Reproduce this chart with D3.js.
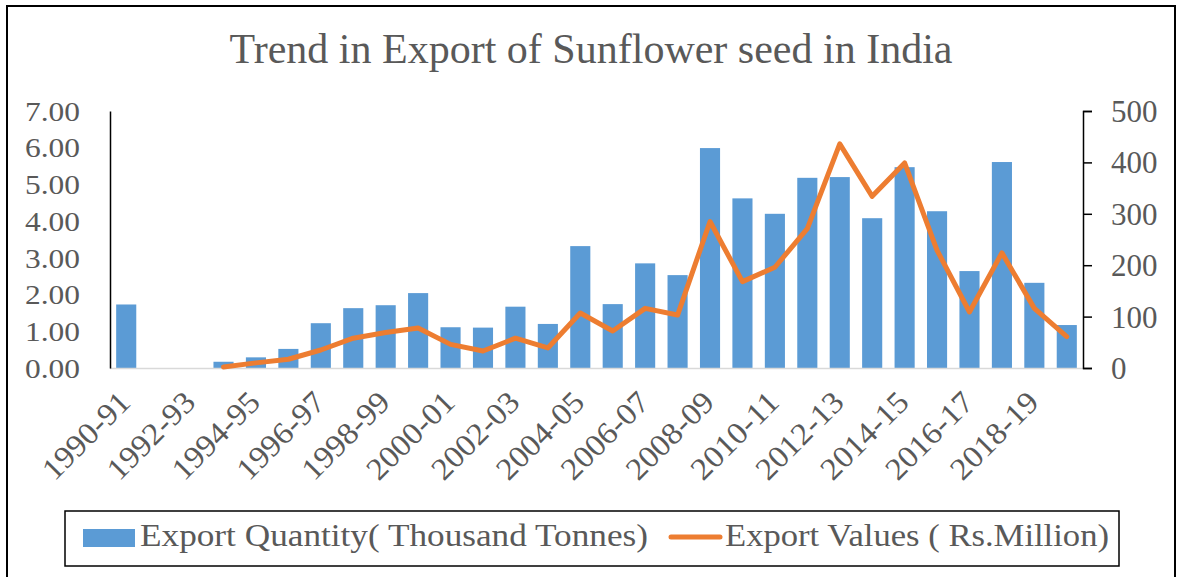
<!DOCTYPE html>
<html>
<head>
<meta charset="utf-8">
<script src="https://cdn.jsdelivr.net/npm/d3@7"></script>
<style>
  body { margin: 0; background: #fff; }
  svg { display: block; font-family: "Liberation Serif", "DejaVu Serif", serif; }
</style>
</head>
<body>
<svg id="chart" width="1178" height="577"></svg>
<script>
// sunflower seed exports, India
const years = ["1990-91","1991-92","1992-93","1993-94","1994-95","1995-96","1996-97","1997-98",
  "1998-99","1999-00","2000-01","2001-02","2002-03","2003-04","2004-05","2005-06","2006-07",
  "2007-08","2008-09","2009-10","2010-11","2011-12","2012-13","2013-14","2014-15","2015-16",
  "2016-17","2017-18","2018-19","2019-20"];
// thousand tonnes
const quantity = [1.73, 0, 0, 0.17, 0.29, 0.52, 1.22, 1.63, 1.71, 2.04, 1.11, 1.10, 1.67, 1.20,
  3.32, 1.74, 2.85, 2.53, 5.99, 4.62, 4.20, 5.18, 5.20, 4.08, 5.47, 4.27, 2.64, 5.61, 2.32, 1.17];
// Rs. million
const exportValue = [null, null, null, 2, 10, 17, 35, 58, 69, 78, 46, 33, 58, 39, 107, 72, 116,
  103, 285, 168, 196, 271, 436, 334, 399, 229, 109, 224, 116, 61];
const leftTicks = [0, 1, 2, 3, 4, 5, 6, 7];
const rightTicks = [0, 100, 200, 300, 400, 500];

const svg = d3.select("svg#chart");
const textColor = "#595959";
const blue = "#5B9BD5";
const orange = "#ED7D31";

const plotLeft = 110, plotRight = 1083, plotTop = 111, plotBottom = 368;

// outer frame (bottom edge falls outside the picture)
svg.append("rect")
   .attr("x", 7).attr("y", 6)
   .attr("width", 1168).attr("height", 620)
   .attr("fill", "none").attr("stroke", "#000").attr("stroke-width", 2);

svg.append("text")
   .attr("x", 591).attr("y", 63)
   .attr("text-anchor", "middle")
   .attr("fill", textColor)
   .style("font-size", "42px")
   .attr("textLength", 723).attr("lengthAdjust", "spacingAndGlyphs")
   .text("Trend in Export of Sunflower seed in India");

const x = d3.scaleBand()
            .domain(years)
            .range([plotLeft, plotRight])
            .paddingInner(0.38)
            .paddingOuter(0.19);
const yLeft = d3.scaleLinear().domain([0, 7]).range([plotBottom, plotTop]);
const yRight = d3.scaleLinear().domain([0, 500]).range([plotBottom, plotTop]);

// bars
svg.append("g")
   .selectAll("rect")
   .data(years)
   .join("rect")
   .attr("x", d => x(d))
   .attr("width", x.bandwidth())
   .attr("y", (d, i) => yLeft(quantity[i]))
   .attr("height", (d, i) => yLeft(0) - yLeft(quantity[i]))
   .attr("fill", blue);

// baseline
svg.append("line")
   .attr("x1", plotLeft).attr("x2", plotRight)
   .attr("y1", plotBottom + 0.5).attr("y2", plotBottom + 0.5)
   .attr("stroke", "#d9d9d9").attr("stroke-width", 1.5);

// value line
let line = d3.line()
             .defined(d => d.v != null)
             .x(d => x(d.year) + x.bandwidth() / 2)
             .y(d => yRight(d.v));
svg.append("path")
   .datum(years.map((year, i) => ({year, v: exportValue[i]})))
   .attr("d", line)
   .attr("fill", "none")
   .attr("stroke", orange)
   .attr("stroke-width", 5)
   .attr("stroke-linejoin", "round")
   .attr("stroke-linecap", "round");

// left axis: plain line, no ticks
const axL = svg.append("g")
               .attr("transform", `translate(${plotLeft},0)`)
               .call(d3.axisLeft(yLeft).tickValues(leftTicks).tickSize(0).tickPadding(30)
                       .tickFormat(d3.format(".2f")));
axL.select(".domain").attr("stroke", "#000").attr("stroke-width", 1.5);
axL.selectAll("text")
   .attr("fill", textColor)
   .attr("dy", "0.34em")
   .style("font-size", "27px")
   .style("font-family", "Liberation Serif")
   .attr("textLength", 55).attr("lengthAdjust", "spacingAndGlyphs");

// right axis with outward ticks
const axR = svg.append("g")
               .attr("transform", `translate(${plotRight},0)`)
               .call(d3.axisRight(yRight).tickValues(rightTicks).tickSize(9).tickSizeOuter(9)
                       .tickPadding(19));
axR.selectAll(".domain, line").attr("stroke", "#000").attr("stroke-width", 1.5);
axR.selectAll("text")
   .attr("fill", textColor)
   .attr("dy", "0.34em")
   .style("font-size", "31px")
   .style("font-family", "Liberation Serif");

// category labels, every other year, rotated
const axB = svg.append("g")
               .attr("transform", `translate(0,${plotBottom})`)
               .call(d3.axisBottom(x).tickValues(years.filter((d, i) => i % 2 === 0)).tickSize(0));
axB.select(".domain").remove();
axB.selectAll("text")
   .attr("fill", textColor)
   .attr("x", 0).attr("y", 0).attr("dy", 0)
   .attr("transform", "translate(6,36) rotate(-45)")
   .style("text-anchor", "end")
   .style("font-size", "31px")
   .style("font-family", "Liberation Serif")
   .attr("textLength", 110).attr("lengthAdjust", "spacingAndGlyphs");

// legend
const legend = svg.append("g");
legend.append("rect")
      .attr("x", 65).attr("y", 511)
      .attr("width", 1054).attr("height", 55)
      .attr("fill", "#fff").attr("stroke", "#000").attr("stroke-width", 1.5);
legend.append("rect")
      .attr("x", 83).attr("y", 529).attr("width", 52).attr("height", 18)
      .attr("fill", blue);
legend.append("text")
      .attr("x", 140).attr("y", 546)
      .attr("fill", textColor).style("font-size", "32px")
      .attr("textLength", 508).attr("lengthAdjust", "spacingAndGlyphs")
      .text("Export Quantity( Thousand Tonnes)");
legend.append("line")
      .attr("x1", 671).attr("x2", 720).attr("y1", 537).attr("y2", 537)
      .attr("stroke", orange).attr("stroke-width", 5).attr("stroke-linecap", "round");
legend.append("text")
      .attr("x", 725).attr("y", 546)
      .attr("fill", textColor).style("font-size", "32px")
      .attr("textLength", 384).attr("lengthAdjust", "spacingAndGlyphs")
      .text("Export Values ( Rs.Million)");
</script>
</body>
</html>
